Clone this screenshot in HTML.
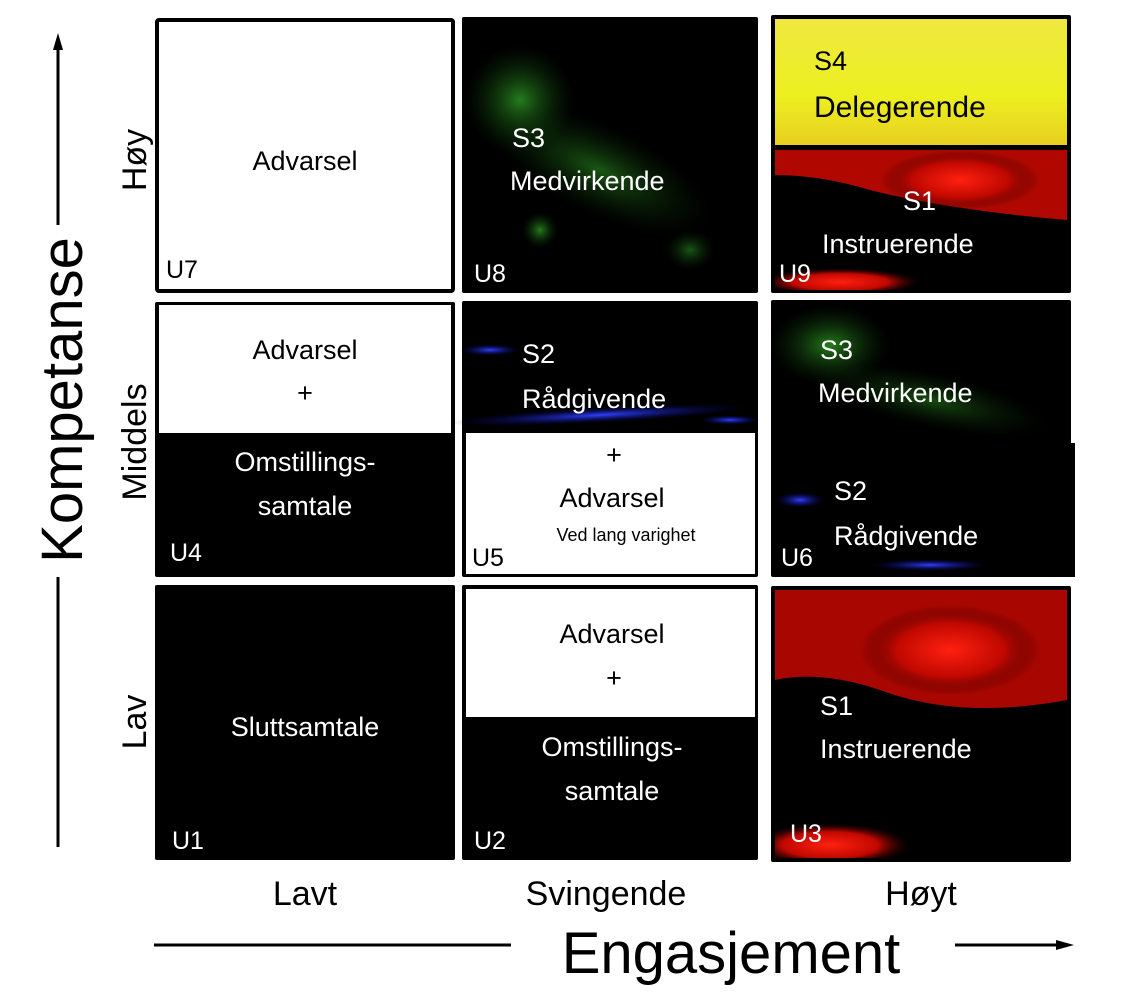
<!DOCTYPE html>
<html><head><meta charset="utf-8"><style>
html,body{margin:0;padding:0;background:#fff;}
svg{display:block;}
text{font-family:"Liberation Sans",sans-serif;}
</style></head><body>
<svg width="1148" height="1000" viewBox="0 0 1148 1000" xmlns="http://www.w3.org/2000/svg">
<defs>
<radialGradient id="g1" cx="50%" cy="50%" r="50%"><stop offset="0" stop-color="#2a8a20" stop-opacity="0.9"/><stop offset="1" stop-color="#0a3008" stop-opacity="0"/></radialGradient>
<radialGradient id="r1" cx="50%" cy="50%" r="50%"><stop offset="0" stop-color="#ff2010"/><stop offset="0.6" stop-color="#c00800"/><stop offset="1" stop-color="#300000" stop-opacity="0"/></radialGradient>
<radialGradient id="b1" cx="50%" cy="50%" r="50%"><stop offset="0" stop-color="#3040ff"/><stop offset="1" stop-color="#000060" stop-opacity="0"/></radialGradient>
<linearGradient id="y1" x1="0" y1="0" x2="0" y2="1"><stop offset="0" stop-color="#f0e840"/><stop offset="0.6" stop-color="#ecf020"/><stop offset="1" stop-color="#e8d020"/></linearGradient>
<clipPath id="c9"><rect x="775" y="150" width="292" height="140"/></clipPath>
<clipPath id="c3"><rect x="775" y="590" width="292" height="268"/></clipPath>
</defs>

<line x1="58" y1="48" x2="58" y2="225" stroke="#000" stroke-width="3"/>
<polygon points="58,33 53,50 63,50" fill="#000"/>
<line x1="58" y1="577" x2="58" y2="847" stroke="#000" stroke-width="3"/>
<text transform="translate(82,400) rotate(-90)" text-anchor="middle" font-size="58">Kompetanse</text>
<text transform="translate(146,160) rotate(-90)" text-anchor="middle" font-size="34">Høy</text>
<text transform="translate(146,442) rotate(-90)" text-anchor="middle" font-size="34">Middels</text>
<text transform="translate(146,722) rotate(-90)" text-anchor="middle" font-size="34">Lav</text>

<line x1="154" y1="945" x2="511" y2="945" stroke="#000" stroke-width="3"/>
<line x1="955" y1="945" x2="1058" y2="945" stroke="#000" stroke-width="3"/>
<polygon points="1074,945 1056,940 1056,950" fill="#000"/>
<text x="731" y="973" text-anchor="middle" font-size="58">Engasjement</text>
<text x="305" y="905" text-anchor="middle" font-size="34">Lavt</text>
<text x="606" y="905" text-anchor="middle" font-size="34">Svingende</text>
<text x="921" y="905" text-anchor="middle" font-size="34">Høyt</text>

<rect x="157" y="20" width="296" height="271" fill="#fff" stroke="#000" stroke-width="4" rx="2"/>
<text x="305" y="170" text-anchor="middle" font-size="27">Advarsel</text>
<text x="166" y="278" font-size="25">U7</text>

<rect x="462" y="17" width="296" height="276" fill="#000" rx="2"/>
<ellipse cx="520" cy="100" rx="55" ry="55" fill="url(#g1)"/>
<ellipse cx="600" cy="170" rx="120" ry="45" fill="url(#g1)" opacity="0.7" transform="rotate(25 600 170)"/>
<ellipse cx="540" cy="230" rx="18" ry="18" fill="url(#g1)"/>
<ellipse cx="690" cy="250" rx="25" ry="20" fill="url(#g1)" opacity="0.7"/>
<text x="512" y="147" font-size="27" fill="#fff">S3</text>
<text x="510" y="190" font-size="27" fill="#fff">Medvirkende</text>
<text x="474" y="282" font-size="25" fill="#fff">U8</text>

<rect x="771" y="15" width="300" height="278" fill="#000" rx="2"/>
<rect x="775" y="19" width="292" height="126" fill="url(#y1)"/>
<rect x="775" y="150" width="292" height="140" fill="#000"/>
<g clip-path="url(#c9)">
<path d="M775,150 L1067,150 L1067,220 Q950,210 870,190 Q820,175 775,175 Z" fill="#b00800"/>
<ellipse cx="960" cy="180" rx="80" ry="30" fill="url(#r1)"/>
<ellipse cx="840" cy="282" rx="80" ry="14" fill="url(#r1)"/>
</g>
<text x="814" y="70" font-size="27" fill="#000">S4</text>
<text x="814" y="117" font-size="30" fill="#000">Delegerende</text>
<text x="903" y="210" font-size="27" fill="#fff">S1</text>
<text x="822" y="253" font-size="27" fill="#fff">Instruerende</text>
<text x="779" y="282" font-size="25" fill="#fff">U9</text>

<rect x="155" y="302" width="300" height="275" fill="#000" rx="2"/>
<rect x="159" y="305" width="292" height="128" fill="#fff"/>
<text x="305" y="359" text-anchor="middle" font-size="27">Advarsel</text>
<text x="305" y="402" text-anchor="middle" font-size="27">+</text>
<text x="305" y="471" text-anchor="middle" font-size="27" fill="#fff">Omstillings-</text>
<text x="305" y="515" text-anchor="middle" font-size="27" fill="#fff">samtale</text>
<text x="170" y="561" font-size="25" fill="#fff">U4</text>

<rect x="462" y="301" width="296" height="276" fill="#000" rx="2"/>
<ellipse cx="490" cy="350" rx="30" ry="6" fill="url(#b1)"/>
<ellipse cx="600" cy="415" rx="150" ry="8" fill="url(#b1)" transform="rotate(-3 600 415)"/>
<ellipse cx="730" cy="420" rx="30" ry="5" fill="url(#b1)"/>
<rect x="466" y="433" width="289" height="141" fill="#fff"/>
<text x="522" y="363" font-size="27" fill="#fff">S2</text>
<text x="522" y="408" font-size="27" fill="#fff">Rådgivende</text>
<text x="614" y="464" text-anchor="middle" font-size="27">+</text>
<text x="612" y="507" text-anchor="middle" font-size="27">Advarsel</text>
<text x="626" y="541" text-anchor="middle" font-size="18">Ved lang varighet</text>
<text x="472" y="566" font-size="25">U5</text>

<rect x="771" y="300" width="300" height="277" fill="#000" rx="2"/>
<rect x="1060" y="443" width="15" height="134" fill="#000"/>
<ellipse cx="830" cy="345" rx="60" ry="40" fill="url(#g1)"/>
<ellipse cx="930" cy="400" rx="120" ry="28" fill="url(#g1)" opacity="0.6" transform="rotate(12 930 400)"/>
<ellipse cx="800" cy="500" rx="25" ry="8" fill="url(#b1)"/>
<ellipse cx="930" cy="565" rx="60" ry="6" fill="url(#b1)"/>
<text x="820" y="359" font-size="27" fill="#fff">S3</text>
<text x="818" y="402" font-size="27" fill="#fff">Medvirkende</text>
<text x="834" y="500" font-size="27" fill="#fff">S2</text>
<text x="834" y="545" font-size="27" fill="#fff">Rådgivende</text>
<text x="781" y="566" font-size="25" fill="#fff">U6</text>

<rect x="155" y="585" width="300" height="275" fill="#000" rx="2"/>
<text x="305" y="736" text-anchor="middle" font-size="27" fill="#fff">Sluttsamtale</text>
<text x="172" y="849" font-size="25" fill="#fff">U1</text>

<rect x="462" y="585" width="296" height="275" fill="#000" rx="2"/>
<rect x="466" y="589" width="289" height="128" fill="#fff"/>
<text x="612" y="643" text-anchor="middle" font-size="27">Advarsel</text>
<text x="614" y="687" text-anchor="middle" font-size="27">+</text>
<text x="612" y="756" text-anchor="middle" font-size="27" fill="#fff">Omstillings-</text>
<text x="612" y="800" text-anchor="middle" font-size="27" fill="#fff">samtale</text>
<text x="474" y="849" font-size="25" fill="#fff">U2</text>

<rect x="771" y="586" width="300" height="276" fill="#000" rx="2"/>
<g clip-path="url(#c3)">
<path d="M775,590 L1067,590 L1067,700 Q960,720 880,690 Q820,670 775,680 Z" fill="#a80600"/>
<ellipse cx="950" cy="650" rx="90" ry="45" fill="url(#r1)"/>
<ellipse cx="830" cy="845" rx="80" ry="22" fill="url(#r1)"/>
</g>
<text x="820" y="715" font-size="27" fill="#fff">S1</text>
<text x="820" y="758" font-size="27" fill="#fff">Instruerende</text>
<text x="790" y="842" font-size="25" fill="#fff">U3</text>
</svg>
</body></html>
